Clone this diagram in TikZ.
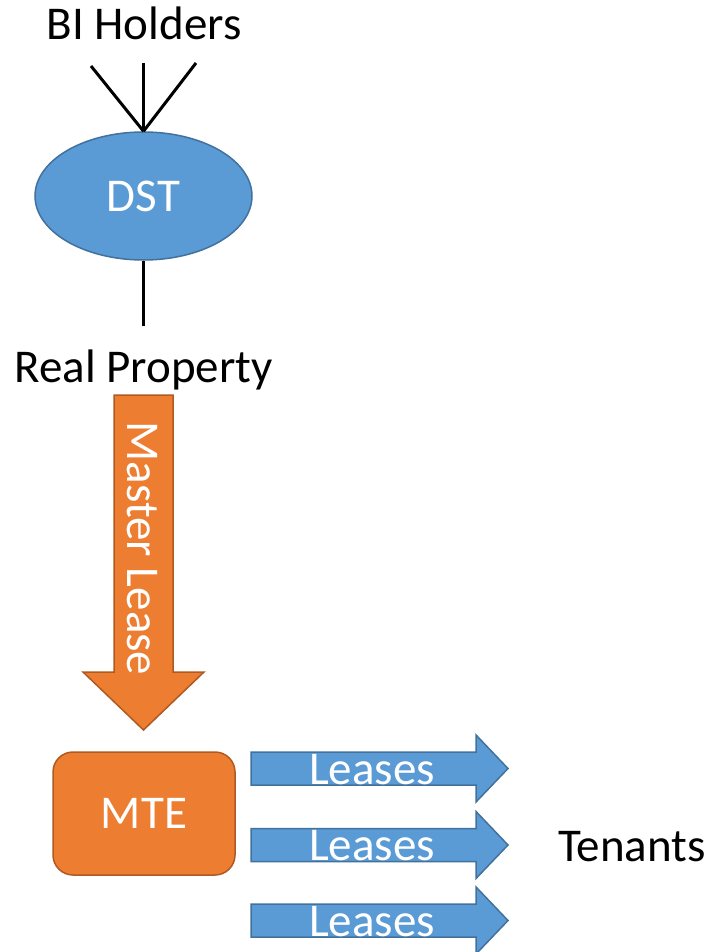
\documentclass[tikz,border=0pt]{standalone}
\usepackage{fontspec}
\setmainfont{Carlito}
\usetikzlibrary{shapes.geometric}
\definecolor{dstblue}{HTML}{5B9BD5}
\definecolor{dstedge}{HTML}{41719C}
\definecolor{mteorange}{HTML}{ED7D31}
\definecolor{mteedge}{HTML}{AE5A21}
\tikzset{
  bigfont/.style={font=\fontsize{47}{56}\selectfont},
  lbl/.style={bigfont, text=black, inner sep=0pt, anchor=base},
  wlbl/.style={bigfont, text=white, inner sep=0pt},
  link/.style={draw=black, line width=3pt},
  bluebox/.style={fill=dstblue, draw=dstedge, line width=1.5pt},
  orangebox/.style={fill=mteorange, draw=mteedge, line width=1.5pt},
}
\begin{document}
\begin{tikzpicture}[x=1pt,y=-1pt]
\useasboundingbox (0,0) rectangle (707,952);

% labels
\node[lbl] (bi) at (144,39.5) {BI Holders};
\node[lbl] (rp) at (143.5,382) {Real Property};
\node[lbl] (ten) at (632,861) {Tenants};

% trust
\node[ellipse, bluebox, minimum width=217, minimum height=128, inner sep=0pt] (dst) at (143.5,196) {};
\node[wlbl] at (dst.center) {DST};

% holders' lines into the trust and the line down to the property
\coordinate (h1) at (91,66);
\coordinate (h2) at (143.5,63);
\coordinate (h3) at (196,63);
\coordinate (pr) at (143.5,326);
\draw[link] (h1) -- (dst.north);
\draw[link] (h2) -- (dst.north);
\draw[link] (h3) -- (dst.north);
\draw[link] (dst.south) -- (pr);

% master lease arrow
\draw[orangebox, line join=miter]
  (114,395) -- (173,395) -- (173,672) -- (204,672) -- (143.5,730)
  -- (83,672) -- (114,672) -- cycle;
\node[wlbl, rotate=-90] (ml) at (142,548.5) {Master Lease};

% master tenant
\node[rectangle, rounded corners=20pt, orangebox, minimum width=182, minimum height=123, inner sep=0pt] (mte) at (144,813.5) {};
\node[wlbl] at (mte.center) {MTE};

% lease arrows
\foreach \cy in {768.5,845,920.5}{
  \draw[bluebox, line join=miter]
    (251,\cy-16.5) -- (476,\cy-16.5) -- (476,\cy-33.5) -- (508,\cy)
    -- (476,\cy+33.5) -- (476,\cy+16.5) -- (251,\cy+16.5) -- cycle;
  \node[wlbl, anchor=base] at (372,\cy+15.5) {Leases};
}
\end{tikzpicture}
\end{document}
